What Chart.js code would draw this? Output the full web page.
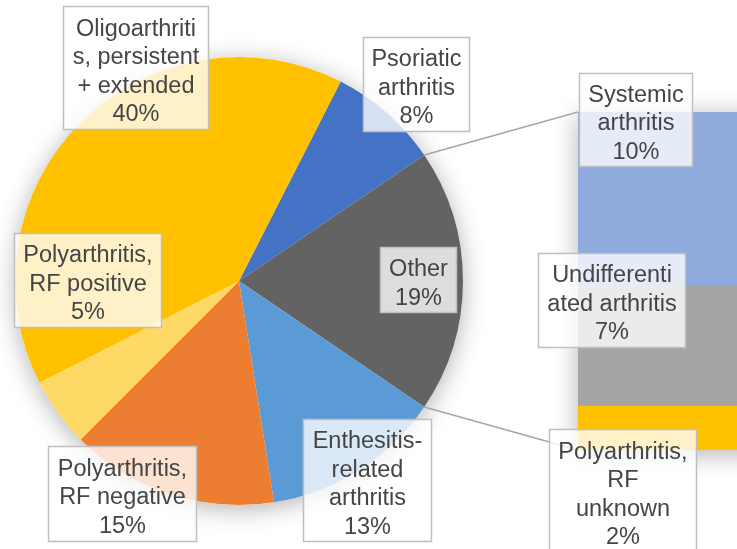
<!DOCTYPE html>
<html><head><meta charset="utf-8">
<script src="https://cdn.jsdelivr.net/npm/chart.js@4"></script>
<style>
html,body{margin:0;padding:0;background:#fff;overflow:hidden;width:737px;height:549px}
#wrap{position:relative;width:737px;height:549px;overflow:hidden;background:#fff}
canvas{position:absolute;left:0;top:0}
</style></head><body>
<div id="wrap"><canvas id="pie" width="737" height="549"></canvas><canvas id="bar" width="900" height="549"></canvas></div>
<script>
// ---- data ----
const pieCategories = ["Psoriatic arthritis","Other","Enthesitis-related arthritis","Polyarthritis, RF negative","Polyarthritis, RF positive","Oligoarthritis, persistent + extended"];
const pieValues = [8, 19, 13, 15, 5, 40];
const barCategories = ["Polyarthritis, RF unknown","Undifferentiated arthritis","Systemic arthritis"];
const barValues = [2.45, 6.8, 9.75];

// ---- styles ----
const pieColors = ["#4472C4","#636363","#5B9BD5","#ED7D31","#FFD966","#FFC000"];
const barColors = ["#FFC000","#A5A5A5","#8FAADC"];
// label text as wrapped in the reference
const pieLabelLines = [["Psoriatic","arthritis"],["Other"],["Enthesitis-","related","arthritis"],["Polyarthritis,","RF negative"],["Polyarthritis,","RF positive"],["Oligoarthriti","s, persistent","+ extended"]];
const barLabelLines = [["Polyarthritis,","RF","unknown"],["Undifferenti","ated arthritis"],["Systemic","arthritis"]];
// label boxes [x1,y1,x2,y2]
const pieBoxes = [[363,37,470,132],[380,247,457,313],[303,419,432,542],[48,446,197,542],[14,233,162,328],[63,6,209,130]];
const barBoxes = [[549,429,697,553],[538,253,686,348],[579,73,693,167]];

const FONT = '23.5px "Liberation Sans", Arial, sans-serif';

function drawBox(ctx, box, lines){
  const [x1,y1,x2,y2] = box;
  ctx.save();
  ctx.fillStyle = 'rgba(255,255,255,0.78)';
  ctx.fillRect(x1,y1,x2-x1,y2-y1);
  ctx.strokeStyle = '#BFBFBF';
  ctx.lineWidth = 1.5;
  ctx.strokeRect(x1+0.5,y1+0.5,x2-x1-1,y2-y1-1);
  ctx.fillStyle = '#454545';
  ctx.font = FONT;
  ctx.textAlign = 'center';
  ctx.textBaseline = 'alphabetic';
  const lh = 28.5;
  const cx = (x1+x2)/2, cy = (y1+y2)/2 + 2;
  const n = lines.length;
  lines.forEach((t,i)=>{
    const y = cy + (i-(n-1)/2)*lh + 8.4;
    ctx.fillText(t, cx, y);
  });
  ctx.restore();
}

const pieShadow = {
  id:'pieShadow',
  beforeDatasetsDraw(chart){
    const a = chart.getDatasetMeta(0).data[0];
    const c = chart.ctx;
    c.save();
    c.shadowColor = 'rgba(0,0,0,0.30)';
    c.shadowBlur = 24; c.shadowOffsetY = 4;
    c.fillStyle = '#fff';
    c.beginPath(); c.arc(a.x, a.y, a.outerRadius, 0, Math.PI*2); c.fill();
    c.restore();
  }
};

const pieChart = new Chart(document.getElementById('pie'), {
  type:'pie',
  data:{labels:pieCategories, datasets:[{data:pieValues, backgroundColor:pieColors, borderWidth:0}]},
  options:{responsive:false, animation:false, events:[], rotation:27,
    layout:{padding:{left:15,right:274,top:57,bottom:44}},
    plugins:{legend:{display:false}, tooltip:{enabled:false}}},
  plugins:[pieShadow]
});

const barShadow = {
  id:'barShadow',
  beforeDatasetsDraw(chart){
    let left=Infinity,right=-Infinity,top=Infinity,bottom=-Infinity;
    chart.data.datasets.forEach((d,i)=>{
      chart.getDatasetMeta(i).data.forEach(b=>{
        left=Math.min(left,b.x-b.width/2); right=Math.max(right,b.x+b.width/2);
        top=Math.min(top,b.y,b.base); bottom=Math.max(bottom,b.y,b.base);
      });
    });
    const c = chart.ctx;
    c.save();
    c.shadowColor = 'rgba(0,0,0,0.30)';
    c.shadowBlur = 24; c.shadowOffsetY = 4;
    c.fillStyle = '#fff';
    c.fillRect(left,top,right-left,bottom-top);
    c.restore();
    chart.$stackRect = {left,right,top,bottom};
  }
};

const overlay = {
  id:'overlay',
  afterDraw(chart){
    const c = chart.ctx;
    const arc = pieChart.getDatasetMeta(0).data[1];
    const r = arc.outerRadius;
    const p1 = [arc.x + r*Math.cos(arc.startAngle), arc.y + r*Math.sin(arc.startAngle)];
    const p2 = [arc.x + r*Math.cos(arc.endAngle), arc.y + r*Math.sin(arc.endAngle)];
    const s = chart.$stackRect;
    c.save();
    c.strokeStyle = '#A6A6A6'; c.lineWidth = 1.5;
    c.beginPath(); c.moveTo(p1[0],p1[1]); c.lineTo(s.left, s.top); c.stroke();
    c.beginPath(); c.moveTo(p2[0],p2[1]); c.lineTo(s.left, s.bottom); c.stroke();
    c.restore();
    const total = pieValues.reduce((a,b)=>a+b,0);
    pieValues.forEach((v,i)=>drawBox(c, pieBoxes[i], pieLabelLines[i].concat([Math.round(v/total*100)+'%'])));
    barValues.forEach((v,i)=>drawBox(c, barBoxes[i], barLabelLines[i].concat([Math.round(v/total*100)+'%'])));
  }
};

new Chart(document.getElementById('bar'), {
  type:'bar',
  data:{labels:['Other'], datasets: barCategories.map((name,i)=>({label:name, data:[barValues[i]], backgroundColor:barColors[i], borderWidth:0, barPercentage:1, categoryPercentage:1}))},
  options:{responsive:false, animation:false, events:[],
    layout:{padding:{left:578,right:102,top:112,bottom:99}},
    scales:{x:{stacked:true, display:false}, y:{stacked:true, display:false, min:0, max:19}},
    plugins:{legend:{display:false}, tooltip:{enabled:false}}},
  plugins:[barShadow, overlay]
});
</script>
</body></html>
